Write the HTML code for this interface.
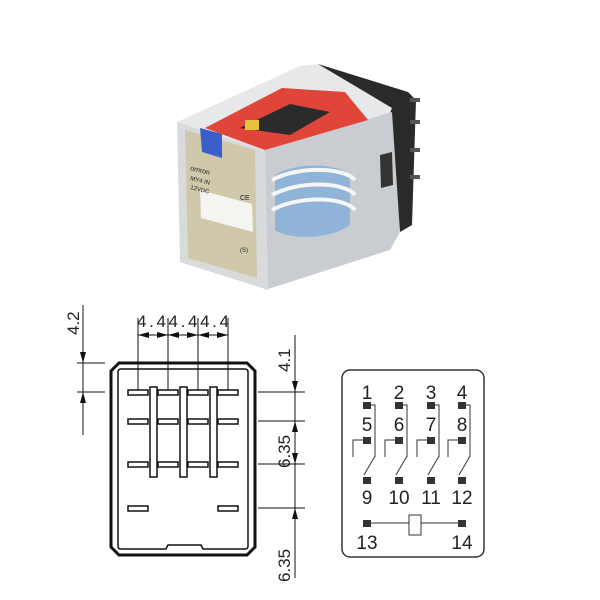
<!DOCTYPE html>
<html><head><meta charset="utf-8"><style>
html,body{margin:0;padding:0;background:#fff;}
svg{display:block;}
text{font-family:"Liberation Sans",sans-serif;fill:#222;}
</style></head><body>
<svg width="600" height="600" viewBox="0 0 600 600" xmlns="http://www.w3.org/2000/svg">
<!-- photo -->
<g>
<polygon points="318,64 408,92 416,100 412,225 400,232 390,120" fill="#2a2a2a"/>
<g fill="#555"><rect x="410" y="98" width="10" height="4"/><rect x="410" y="120" width="10" height="4"/><rect x="410" y="148" width="10" height="4"/><rect x="410" y="175" width="10" height="4"/></g>
<polygon points="177,122 300,66 318,64 392,108 388,118 265,150" fill="#e6e8ea"/>
<polygon points="265,150 392,112 400,232 390,250 265,290" fill="#c9cdd2"/>
<polygon points="205,128 282,88 345,92 368,120 265,150" fill="#e0453a"/>
<polygon points="240,128 290,104 330,112 290,135" fill="#2b2b2b"/>
<polygon points="177,122 265,150 268,290 180,262" fill="#d8dadc"/>
<polygon points="185,130 255,150 257,278 188,258" fill="#cfc8ab"/>
<polygon points="200,190 252,204 253,232 201,218" fill="#f4f4f0"/>
<polygon points="200,128 222,134 222,158 202,152" fill="#3b5fc9"/>
<rect x="245" y="120" width="14" height="10" fill="#e8c23a"/>
<text x="190" y="170" font-size="7" transform="rotate(14 190 170)">omron</text>
<text x="190" y="180" font-size="6" transform="rotate(14 190 180)">MY4 IN</text>
<text x="190" y="189" font-size="6" transform="rotate(14 190 189)">12VDC</text>
<text x="240" y="200" font-size="7">CE</text>
<text x="240" y="252" font-size="6">(S)</text>
<path d="M275,175 C300,160 340,165 350,175 L350,225 C330,240 290,240 275,230 Z" fill="#8fb4d8"/>
<path d="M272,180 C300,165 345,168 355,180 M272,195 C300,180 345,182 355,195 M272,210 C300,195 345,197 355,210" stroke="#f5f5f5" stroke-width="4" fill="none"/>
<polygon points="380,155 392,152 393,185 381,188" fill="#333"/>
</g>
<!-- left drawing -->
<g stroke="#111" fill="none">
<path d="M119,363 L247,363 L255,371 L255,547 L247,555 L119,555 L111,547 L111,371 Z" stroke-width="3"/>
<path d="M121,369 L245,369 Q248,369 248,372 L248,546 Q248,549 245,549 L203,549 L201,545 L168,545 L166,549 L121,549 Q118,549 118,546 L118,372 Q118,369 121,369 Z" stroke-width="1.5"/>
<g stroke-width="1">
<line x1="83" y1="305" x2="83" y2="435"/>
<line x1="77" y1="363" x2="105" y2="363"/><line x1="77" y1="392" x2="105" y2="392"/>
<line x1="295" y1="335" x2="295" y2="578"/>
<line x1="258" y1="392" x2="305" y2="392"/><line x1="258" y1="421" x2="305" y2="421"/>
<line x1="258" y1="464" x2="305" y2="464"/><line x1="258" y1="508" x2="305" y2="508"/>
<line x1="138" y1="318" x2="138" y2="392"/><line x1="168" y1="318" x2="168" y2="392"/>
<line x1="198" y1="318" x2="198" y2="392"/><line x1="228" y1="318" x2="228" y2="392"/>
<line x1="138" y1="335" x2="228" y2="335"/>
</g>
</g>
<g fill="#111">
<polygon points="83,363 80,352 86,352"/><polygon points="83,392 80,403 86,403"/>
<polygon points="295,392 292,381 298,381"/><polygon points="295,421 292,432 298,432"/>
<polygon points="295,464 292,453 298,453"/><polygon points="295,508 292,519 298,519"/>
<polygon points="138,335 149,332 149,338"/><polygon points="168,335 157,332 157,338"/>
<polygon points="168,335 179,332 179,338"/><polygon points="198,335 187,332 187,338"/>
<polygon points="198,335 209,332 209,338"/><polygon points="228,335 217,332 217,338"/>
</g>
<g fill="#fff" stroke="#111" stroke-width="1.5">
<rect x="150" y="387" width="7" height="90"/><rect x="180" y="387" width="7" height="90"/><rect x="210" y="387" width="7" height="90"/>
</g>
<g fill="#fff" stroke="#111" stroke-width="1.5">
<rect x="128" y="390" width="20" height="5"/><rect x="158" y="390" width="20" height="5"/><rect x="188" y="390" width="20" height="5"/><rect x="218" y="390" width="20" height="5"/>
<rect x="128" y="419" width="20" height="5"/><rect x="158" y="419" width="20" height="5"/><rect x="188" y="419" width="20" height="5"/><rect x="218" y="419" width="20" height="5"/>
<rect x="128" y="462" width="20" height="5"/><rect x="158" y="462" width="20" height="5"/><rect x="188" y="462" width="20" height="5"/><rect x="218" y="462" width="20" height="5"/>
<rect x="128" y="506" width="20" height="5"/><rect x="218" y="506" width="20" height="5"/>
</g>
<text x="137" y="327" font-size="17" textLength="92" lengthAdjust="spacing">4.44.44.4</text>
<text transform="translate(79,335) rotate(-90)" font-size="17">4.2</text>
<text transform="translate(290,372) rotate(-90)" font-size="17">4.1</text>
<text transform="translate(290,468) rotate(-90)" font-size="17">6.35</text>
<text transform="translate(290,582) rotate(-90)" font-size="17">6.35</text>
<!-- schematic -->
<rect x="342" y="370" width="142" height="187" rx="8" fill="none" stroke="#333" stroke-width="1.5"/>
<g font-size="19" text-anchor="middle">
<text x="367" y="399">1</text><text x="399" y="399">2</text><text x="431" y="399">3</text><text x="462" y="399">4</text>
<text x="367" y="431">5</text><text x="399" y="431">6</text><text x="431" y="431">7</text><text x="462" y="431">8</text>
<text x="367" y="504">9</text><text x="399" y="504">10</text><text x="431" y="504">11</text><text x="462" y="504">12</text>
<text x="367" y="549">13</text><text x="462" y="549">14</text>
</g>
<g fill="none" stroke="#333" stroke-width="1">
<path d="M371,405 H375 V457 M363,440 H353 V457 M364,475 L375,456"/>
<path d="M403,405 H407 V457 M395,440 H385 V457 M396,475 L407,456"/>
<path d="M435,405 H439 V457 M427,440 H417 V457 M428,475 L439,456"/>
<path d="M466,405 H470 V457 M458,440 H448 V457 M459,475 L470,456"/>
<line x1="367" y1="523" x2="409" y2="523"/><line x1="421" y1="523" x2="462" y2="523"/>
<rect x="409" y="515" width="12" height="20" fill="#fff"/>
</g>
<g fill="#333">
<rect x="363" y="402" width="8" height="7"/><rect x="395" y="402" width="8" height="7"/><rect x="427" y="402" width="8" height="7"/><rect x="458" y="402" width="8" height="7"/>
<rect x="363" y="437" width="8" height="7"/><rect x="395" y="437" width="8" height="7"/><rect x="427" y="437" width="8" height="7"/><rect x="458" y="437" width="8" height="7"/>
<rect x="363" y="477" width="8" height="7"/><rect x="395" y="477" width="8" height="7"/><rect x="427" y="477" width="8" height="7"/><rect x="458" y="477" width="8" height="7"/>
<rect x="363" y="520" width="8" height="7"/><rect x="458" y="520" width="8" height="7"/>
</g>
</svg>
</body></html>
